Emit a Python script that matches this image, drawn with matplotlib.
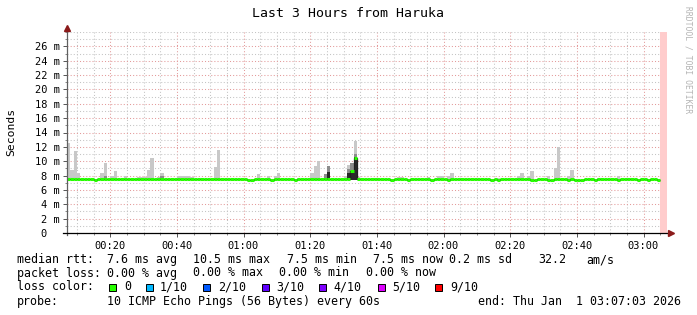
import matplotlib
matplotlib.use("Agg")
import matplotlib.pyplot as plt
from matplotlib.patches import Rectangle

W, H = 697, 315
MONO = "DejaVu Sans Mono"

title = "Last 3 Hours from Haruka"
y_label = "Seconds"
watermark = "RRDTOOL / TOBI OETIKER"

# time axis in minutes after 00:00; sample i covers [start_minute+i, start_minute+i+1]
start_minute = 7
x_start, x_end = 7.05, 187.05
unknown_from = 185
xtick_minutes = [20, 40, 60, 80, 100, 120, 140, 160, 180]
xtick_labels = ["00:20", "00:40", "01:00", "01:20", "01:40", "02:00", "02:20", "02:40", "03:00"]
ytick_values = [0, 2, 4, 6, 8, 10, 12, 14, 16, 18, 20, 22, 24, 26]
ytick_labels = ["0  ", "2 m", "4 m", "6 m", "8 m", "10 m", "12 m", "14 m", "16 m",
                "18 m", "20 m", "22 m", "24 m", "26 m"]

# median rtt per minute (ms)
median_ms = [
    7.5, 7.5, 7.5, 7.5, 7.5, 7.5, 7.5, 7.5, 7.35, 7.5, 7.5, 7.5, 7.5, 7.5, 7.5, 7.5, 7.5, 7.5, 7.5, 7.5,
    7.5, 7.5, 7.5, 7.5, 7.5, 7.5, 7.5, 7.5, 7.5, 7.5, 7.5, 7.5, 7.5, 7.5, 7.5, 7.5, 7.5, 7.5, 7.5, 7.5,
    7.5, 7.5, 7.5, 7.5, 7.5, 7.5, 7.5, 7.5, 7.5, 7.5, 7.5, 7.5, 7.5, 7.5, 7.35, 7.35, 7.5, 7.5, 7.5, 7.5,
    7.5, 7.35, 7.5, 7.5, 7.5, 7.5, 7.5, 7.5, 7.35, 7.5, 7.5, 7.5, 7.5, 7.5, 7.5, 7.5, 7.5, 7.5, 7.5, 7.5,
    7.5, 7.5, 7.5, 7.5, 7.5, 8.7, 10.5, 7.5, 7.5, 7.5, 7.5, 7.5, 7.5, 7.5, 7.5, 7.5, 7.5, 7.35, 7.5, 7.5,
    7.5, 7.5, 7.35, 7.5, 7.5, 7.5, 7.5, 7.5, 7.5, 7.35, 7.5, 7.5, 7.5, 7.5, 7.35, 7.5, 7.5, 7.5, 7.5, 7.5,
    7.5, 7.5, 7.5, 7.5, 7.5, 7.5, 7.5, 7.35, 7.5, 7.35, 7.5, 7.5, 7.5, 7.5, 7.5, 7.5, 7.5, 7.5, 7.5, 7.35,
    7.35, 7.5, 7.5, 7.5, 7.35, 7.35, 7.5, 7.5, 7.5, 7.5, 7.35, 7.5, 7.35, 7.35, 7.35, 7.5, 7.5, 7.5, 7.35, 7.5,
    7.5, 7.5, 7.5, 7.5, 7.5, 7.35, 7.5, 7.5, 7.5, 7.5, 7.5, 7.35, 7.5, 7.5, 7.35, 7.5, 7.5, 7.35,
]

# light smoke: sample index and top value (ms)
smoke_idx = [0, 1, 2, 3, 10, 11, 13, 14, 17, 21, 22, 23, 24, 25, 27, 28, 33, 34, 35, 36, 37, 40,
             44, 45, 57, 60, 62, 63, 69, 73, 74, 75, 77, 78, 83, 84, 85, 86, 87, 88, 92, 93, 99, 100,
             108, 111, 112, 114, 115, 118, 129, 135, 136, 138, 139, 144, 146, 147, 150, 151,
             159, 160, 165, 168, 169]
smoke_top = [12.6, 8.8, 11.4, 8.4, 8.4, 9.7, 7.9, 8.6, 8.0, 7.8, 7.8, 7.8, 8.8, 10.4, 7.8, 8.3, 7.9, 7.9, 7.9, 7.9, 7.8, 7.7,
             9.2, 11.6, 8.2, 7.9, 7.9, 8.4, 7.7, 8.4, 9.3, 10.0, 8.2, 9.4, 7.9, 9.5, 9.7, 12.8, 7.8, 7.7, 7.7, 7.7, 7.8, 7.8,
             7.8, 7.9, 7.9, 7.9, 8.4, 7.7, 7.7, 8.0, 8.4, 7.9, 8.6, 8.0, 9.1, 12.0, 7.9, 8.8,
             7.7, 7.7, 8.0, 7.7, 7.7]
smoke_bottom = 7.4

# medium smoke
mid_idx = [11, 28, 77, 78, 84, 85, 86]
mid_top = [8.0, 7.9, 8.2, 9.4, 8.9, 9.7, 11.0]
# dark smoke
dark_idx = [78, 84, 85, 86]
dark_top = [8.5, 8.3, 8.7, 10.6]

# legend
legend_rows = [
    [("median rtt:", 16.7), ("7.6 ms avg", 107), ("10.5 ms max", 193), ("7.5 ms min", 287),
     ("7.5 ms now", 373), ("0.2 ms sd", 449), ("32.2", 538), ("am/s", 586)],
    [("packet loss:", 16.7), ("0.00 % avg", 107), ("0.00 % max", 193), ("0.00 % min", 279),
     ("0.00 % now", 366)],
    [("loss color:", 16.7)],
    [("probe:", 16.7), ("10 ICMP Echo Pings (56 Bytes) every 60s", 107),
     ("end: Thu Jan  1 03:07:03 2026", 478)],
]
legend_row_y = [259.7, 273.0, 287.0, 301.3]
loss_labels = ["0", "1/10", "2/10", "3/10", "4/10", "5/10", "9/10"]
loss_colors = ["#26ff00", "#00b8ff", "#0059ff", "#5e00ff", "#7e00ff", "#dd00ff", "#ff0000"]
loss_box_x = [108.7, 146, 203, 262, 319, 378, 435]
loss_label_x = [124, 160, 218, 276, 333, 392, 450]

fig = plt.figure(figsize=(W / 100, H / 100), dpi=100)
fig.patch.set_facecolor("white")
ax = fig.add_axes([67 / W, 82 / H, 600 / W, 201 / H])
ax.set_facecolor("white")

ax.set_xlim(x_start, x_end)
ax.set_ylim(0, 28)

# grid
ax.set_xticks(xtick_minutes)
ax.set_xticklabels(xtick_labels)
ax.set_xticks([m for m in range(10, 186, 5) if m not in xtick_minutes], minor=True)
ax.set_yticks(ytick_values)
ax.set_yticklabels(ytick_labels)
ax.set_yticks([v for v in range(1, 28) if v % 2 == 1] + [28], minor=True)
ax.grid(which="minor", color="#c4c4c4", linestyle=(0, (1, 2)), linewidth=0.75)
ax.grid(which="major", color="#e39a9a", linestyle=(0, (1, 2)), linewidth=0.75)
ax.set_axisbelow(True)

for lab in ax.get_xticklabels() + ax.get_yticklabels():
    lab.set_fontfamily(MONO)
    lab.set_fontsize(7.5)
ax.tick_params(axis="both", which="major", direction="out", length=3, width=0.7, color="#555555")
ax.tick_params(axis="both", which="minor", direction="out", length=1.5, width=0.7, color="#888888")
ax.tick_params(axis="y", pad=2.0)
ax.tick_params(axis="x", pad=2.5)

for s in ax.spines.values():
    s.set_visible(False)

# unknown area
ax.axvspan(unknown_from, x_end, color="#ffcccc", lw=0, zorder=1)

# smoke
ax.bar([start_minute + i for i in smoke_idx], [t - smoke_bottom for t in smoke_top],
       bottom=smoke_bottom, width=1, align="edge", color="#c8c8c8", lw=0, zorder=2)
ax.bar([start_minute + i for i in mid_idx], [t - smoke_bottom for t in mid_top],
       bottom=smoke_bottom, width=1, align="edge", color="#8c8c8c", lw=0, zorder=2.1)
ax.bar([start_minute + i for i in dark_idx], [t - smoke_bottom for t in dark_top],
       bottom=smoke_bottom, width=1, align="edge", color="#2a2a2a", lw=0, zorder=2.2)

# median
n = len(median_ms)
edges = [start_minute + i for i in range(n + 1)]
ax.stairs(median_ms, edges, color="#202020", lw=0.9, zorder=3, baseline=None)
ax.hlines(median_ms, edges[:-1], edges[1:], color="#26ff00", lw=2.2, zorder=4,
          capstyle="butt")

# axes lines with arrows
ax.plot([0, 0], [-0.01, 1.015], transform=ax.transAxes, color="#606060", lw=0.9,
        clip_on=False, zorder=5)
ax.plot([-0.006, 1.005], [0, 0], transform=ax.transAxes, color="#000000", lw=0.9,
        clip_on=False, zorder=5)
ax.plot([0], [1.02], transform=ax.transAxes, marker="^", color="#8b1a1a", markersize=4,
        clip_on=False, zorder=6)
ax.plot([1.007], [0], transform=ax.transAxes, marker=">", color="#8b1a1a", markersize=4,
        clip_on=False, zorder=6)

# titles
fig.text(347.5 / W, 1 - 13.5 / H, title, ha="center", va="center", family=MONO, fontsize=9.5)
fig.text(11 / W, 1 - 132 / H, y_label, rotation=90, ha="center", va="center", family=MONO,
         fontsize=8.2)
fig.text(688 / W, 1 - 60 / H, watermark, rotation=-90, ha="center", va="center", family=MONO,
         fontsize=5.8, color="#b4b4b4")

# legend
for row, yy in zip(legend_rows, legend_row_y):
    for txt, xx in row:
        fig.text(xx / W, 1 - yy / H, txt, ha="left", va="center", family=MONO, fontsize=8.4)

box = 7.0
for c, bx, lab, lx in zip(loss_colors, loss_box_x, loss_labels, loss_label_x):
    fig.patches.append(Rectangle((bx / W, 1 - (legend_row_y[2] + box / 2) / H), box / W, box / H,
                                 transform=fig.transFigure, facecolor=c, edgecolor="black",
                                 lw=0.7))
    fig.text(lx / W, 1 - legend_row_y[2] / H, lab, ha="left", va="center", family=MONO,
             fontsize=8.4)

fig.savefig("out.png", dpi=100, facecolor="white")
